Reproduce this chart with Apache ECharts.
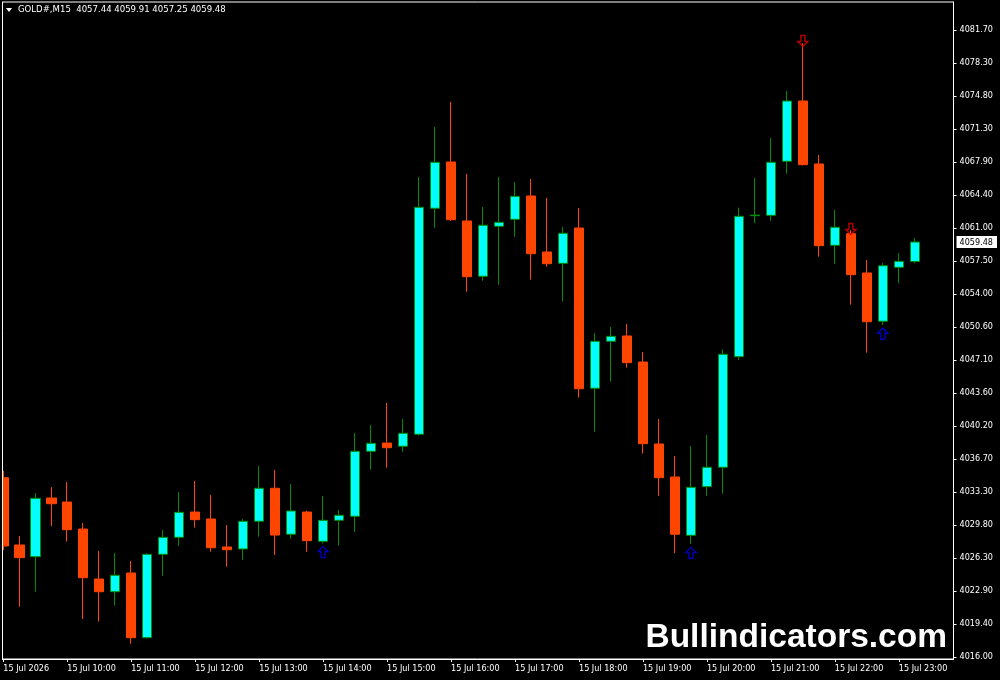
<!DOCTYPE html>
<html>
<head>
<meta charset="utf-8">
<script src="https://cdn.jsdelivr.net/npm/echarts@6/dist/echarts.min.js"></script>
<style>html,body{margin:0;padding:0;background:#000;}#c{width:1000px;height:680px;}</style>
</head>
<body>
<div id="c"></div>
<script>
// ---- data ----
const symbolName = 'GOLD#,M15';
const opens  = [4034.79,4027.74,4026.51,4032.66,4032.24,4029.41,4024.17,4022.84,4024.80,4018.02,
                4026.76,4028.54,4031.19,4030.46,4027.53,4027.32,4030.22,4033.68,4028.86,4031.19,
                4028.12,4030.32,4030.74,4037.55,4038.42,4038.08,4039.34,4063.02,4067.87,4061.69,
                4055.89,4061.13,4061.86,4064.31,4058.44,4057.25,4060.95,4044.16,4049.08,4049.64,
                4046.91,4038.32,4034.86,4028.75,4033.85,4035.88,4047.47,4062.24,4062.28,4067.94,
                4074.26,4067.66,4059.14,4060.36,4056.24,4051.18,4056.83,4057.44];
const closes = [4027.63,4026.41,4032.63,4032.06,4029.34,4024.31,4022.84,4024.56,4018.02,4026.76,
                4028.54,4031.16,4030.39,4027.45,4027.24,4030.22,4033.68,4028.78,4031.30,4028.19,
                4030.32,4030.85,4037.55,4038.39,4037.93,4039.44,4063.12,4067.84,4061.82,4055.85,
                4061.24,4061.55,4064.27,4058.26,4057.21,4060.40,4044.11,4049.08,4049.60,4046.84,
                4038.35,4034.79,4028.86,4033.78,4035.88,4047.72,4062.18,4062.30,4067.84,4074.26,
                4067.59,4059.10,4061.03,4056.06,4051.13,4057.00,4057.46,4059.48];
const lows   = [4027.21,4021.27,4022.84,4029.73,4028.08,4019.98,4019.70,4021.38,4017.39,4017.95,
                4024.52,4027.63,4029.55,4027.03,4025.46,4026.20,4028.61,4026.69,4028.40,4027.03,
                4027.91,4027.66,4029.10,4035.63,4035.84,4037.51,4039.20,4060.98,4061.70,4054.28,
                4055.43,4055.01,4060.04,4055.54,4056.90,4053.23,4043.17,4039.61,4044.85,4046.31,
                4037.30,4032.90,4026.87,4027.87,4032.90,4033.11,4047.12,4061.45,4061.72,4066.64,
                4067.50,4057.95,4057.21,4052.92,4047.89,4050.79,4055.16,4057.25];
const highs  = [4035.49,4028.68,4033.18,4033.81,4034.34,4030.04,4027.11,4026.90,4026.06,4026.85,
                4029.31,4033.29,4034.44,4032.98,4029.83,4030.46,4036.01,4035.59,4034.13,4031.33,
                4032.87,4031.40,4039.47,4040.31,4042.62,4040.94,4066.30,4071.54,4074.16,4066.61,
                4063.15,4066.30,4065.77,4066.09,4064.10,4061.06,4063.05,4049.95,4050.58,4050.89,
                4047.96,4040.94,4037.06,4038.11,4039.26,4048.24,4063.08,4066.19,4070.38,4075.31,
                4080.31,4068.60,4062.84,4060.74,4057.60,4057.29,4058.33,4059.91];
// arrow signals: [candle index, price]
const upArrows   = [[20, 4027.00], [43, 4026.90], [55, 4049.88]];
const downArrows = [[50, 4080.55], [53, 4060.85]];
// axis tick labels
const xTickIndex  = [0,4,8,12,16,20,24,28,32,36,40,44,48,52,56];
const xTickLabels = ['15 Jul 2026','15 Jul 10:00','15 Jul 11:00','15 Jul 12:00','15 Jul 13:00',
                     '15 Jul 14:00','15 Jul 15:00','15 Jul 16:00','15 Jul 17:00','15 Jul 18:00',
                     '15 Jul 19:00','15 Jul 20:00','15 Jul 21:00','15 Jul 22:00','15 Jul 23:00'];
const yTickLabels = ['4016.00','4019.40','4022.90','4026.30','4029.80','4033.30','4036.70',
                     '4040.20','4043.60','4047.10','4050.60','4054.00','4057.50','4061.00',
                     '4064.40','4067.90','4071.30','4074.80','4078.30','4081.70'];
const watermark = 'Bullindicators.com';

// ---- build ----
const yFirst = 4016.00, yLast = 4081.70;
const yStep = (yLast - yFirst) / (yTickLabels.length - 1);
const yTickValues = yTickLabels.map((_, k) => yFirst + k * yStep);
const n = opens.length;
const candles = opens.map((o, i) => [i, o, closes[i], lows[i], highs[i]]);
const last = n - 1;
const lastClose = closes[last];
const titleText = symbolName + '  ' + opens[last].toFixed(2) + ' ' + highs[last].toFixed(2) + ' ' +
                  lows[last].toFixed(2) + ' ' + closes[last].toFixed(2);
const FONT = '"DejaVu Sans Condensed", "Liberation Sans Narrow", "Liberation Sans", sans-serif';

const upPath = 'path://M5,0 L10,5 L7,5 L7,11 L3,11 L3,5 L0,5 Z';
const downPath = 'path://M3,0 L7,0 L7,6 L10,6 L5,11 L0,6 L3,6 Z';

const chart = echarts.init(document.getElementById('c'), null, {renderer: 'canvas'});
chart.setOption({
  backgroundColor: '#000',
  animation: false,
  title: {
    text: titleText, left: 18, top: 5, padding: 0,
    textStyle: {color: '#fff', fontSize: 9.5, fontWeight: 'normal', fontFamily: FONT}
  },
  grid: {
    left: 2, top: 2, right: 46, bottom: 21,
    show: true, borderColor: '#fff', borderWidth: 1, backgroundColor: '#000'
  },
  xAxis: {
    type: 'value', min: -0.08, max: 59.42,
    axisLine: {show: true, onZero: false, lineStyle: {color: '#fff', width: 1}},
    axisTick: {show: true, length: 3, lineStyle: {color: '#fff'}, customValues: xTickIndex},
    splitLine: {show: false},
    axisLabel: {
      customValues: xTickIndex, color: '#fff', fontSize: 9, fontFamily: FONT,
      align: 'left', margin: 5, showMinLabel: true, showMaxLabel: true,
      formatter: v => { const k = xTickIndex.indexOf(Math.round(v)); return k >= 0 ? xTickLabels[k] : ''; }
    }
  },
  yAxis: {
    type: 'value', position: 'right', min: 4015.79, max: 4084.634, scale: true,
    axisLine: {show: true, onZero: false, lineStyle: {color: '#fff', width: 1}},
    axisTick: {show: true, length: 3, lineStyle: {color: '#fff'}, customValues: yTickValues},
    splitLine: {show: false},
    axisLabel: {
      customValues: yTickValues.concat([lastClose]),
      color: '#fff', fontSize: 9, fontFamily: FONT, margin: 3,
      showMinLabel: true, showMaxLabel: true,
      formatter: v => {
        if (Math.abs(v - lastClose) < 1e-9) return '{p|' + lastClose.toFixed(2) + '}';
        const k = Math.round((v - yFirst) / yStep);
        return (k >= 0 && k < yTickLabels.length) ? '{n|' + yTickLabels[k] + '}' : '';
      },
      rich: {
        n: {color: '#fff', fontSize: 9, fontFamily: FONT, padding: [0, 0, 0, 3]},
        p: {color: '#000', backgroundColor: '#fff', fontSize: 9, fontFamily: FONT, padding: [2, 4, 1, 3]}
      }
    }
  },
  series: [
    {
      type: 'candlestick',
      data: candles,
      encode: {x: 0, y: [1, 2, 3, 4]},
      barWidth: 10,
      clip: true,
      itemStyle: {
        color: '#00ffff', color0: '#ff4500',
        borderColor: '#008c00', borderColor0: '#ff4500',
        borderColorDoji: '#008c00', borderWidth: 1
      },
      z: 2
    },
    {
      type: 'scatter', data: upArrows, symbol: upPath, symbolSize: [10, 11],
      itemStyle: {color: 'rgba(0,0,0,0)', borderColor: '#0000e0', borderWidth: 1.5}, z: 5
    },
    {
      type: 'scatter', data: downArrows, symbol: downPath, symbolSize: [10, 11],
      itemStyle: {color: 'rgba(0,0,0,0)', borderColor: '#e00000', borderWidth: 1.5}, z: 5
    }
  ],
  graphic: [
    // mask the part of the first candle that falls left of the chart frame
    {type: 'rect', shape: {x: 0, y: 0, width: 2, height: 680}, style: {fill: '#000'}, z: 20},
    {type: 'line', shape: {x1: 2.5, y1: 2, x2: 2.5, y2: 659}, style: {stroke: '#fff', lineWidth: 1}, z: 21},
    {type: 'polygon', shape: {points: [[6, 8], [12, 8], [9, 12]]}, style: {fill: '#fff'}, z: 10},
    {type: 'text', x: 947, y: 638, z: 10,
     style: {text: watermark, fill: '#fff', textAlign: 'right', textVerticalAlign: 'middle',
             font: 'bold 33.5px "Liberation Sans", Arial, sans-serif'}}
  ]
});
</script>
</body>
</html>
